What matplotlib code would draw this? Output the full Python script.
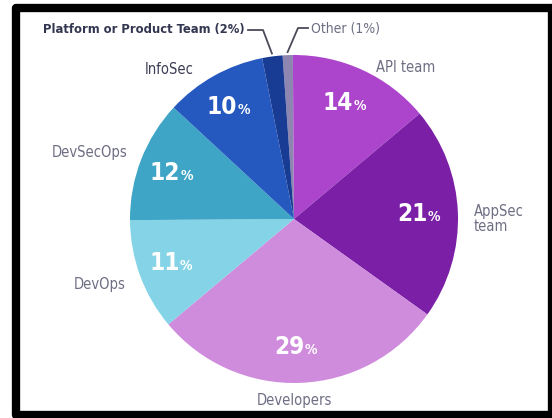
import numpy as np
import matplotlib
matplotlib.use('Agg')
import matplotlib.pyplot as plt
from matplotlib.patches import Rectangle

# team shares, clockwise from the top
teams = ['Other', 'API team', 'AppSec\nteam', 'Developers', 'DevOps',
         'DevSecOps', 'InfoSec', 'Platform or Product Team']
shares = [1, 14, 21, 29, 11, 12, 10, 2]
colors = ['#8c86b0', '#ad45cc', '#7a1fa6', '#cf8cdd', '#84d3e6',
          '#3ea5c6', '#2559c0', '#183c94']

# outside label spots (pixel space)
label_pos = {
    'API team': (406, 350),
    'AppSec\nteam': (474, 199),
    'Developers': (294, 18),
    'DevOps': (100, 134),
    'DevSecOps': (90, 265),
    'InfoSec': (169, 348),
}

fig = plt.figure(figsize=(5.52, 4.18), dpi=100)
ax = fig.add_axes([0, 0, 1, 1])

cx, cy, R = 294, 199, 164
wedges, _ = ax.pie(shares, colors=colors, startangle=94, counterclock=False,
                   center=(cx, cy), radius=R, frame=True,
                   wedgeprops=dict(linewidth=0))
ax.set_xlim(0, 552)
ax.set_ylim(0, 418)
ax.set_aspect('equal')
ax.axis('off')

font = dict(family='DejaVu Sans', fontstretch='condensed')

for w, name, val in zip(wedges, teams, shares):
    mid = np.deg2rad((w.theta1 + w.theta2) / 2)
    if val >= 5:
        d = 0.78 * R
        px, py = cx + d * np.cos(mid), cy + d * np.sin(mid)
        ax.annotate(str(val), (px, py), xytext=(4, 0), textcoords='offset points',
                    ha='right', va='center', color='white', fontsize=17.5,
                    fontweight='bold', **font)
        ax.annotate('%', (px, py), xytext=(4, -2), textcoords='offset points',
                    ha='left', va='center', color='white', fontsize=10,
                    fontweight='bold', **font)
    if name in label_pos:
        dark = name == 'InfoSec'
        ax.text(*label_pos[name], name,
                ha='left' if name.startswith('AppSec') else 'center',
                va='center', fontsize=10.5, color='#3c3e55' if dark else '#6e6e84',
                linespacing=1.0, **font)

# leader lines for the two thin slices
th_plat = np.deg2rad((wedges[7].theta1 + wedges[7].theta2) / 2)
th_oth = np.deg2rad((wedges[0].theta1 + wedges[0].theta2) / 2)
ex, ey = cx + (R + 3) * np.cos(th_plat), cy + (R + 3) * np.sin(th_plat)
ax.plot([248, 263, ex], [388, 388, ey], color='#4a4a5a', lw=1.3)
ax.text(245, 389, 'Platform or Product Team (2%)', ha='right', va='center',
        fontsize=9.3, fontweight='bold', color='#333650', **font)
ex, ey = cx + (R + 3) * np.cos(th_oth), cy + (R + 3) * np.sin(th_oth)
ax.plot([308, 298, ex], [390, 390, ey], color='#4a4a5a', lw=1.3)
ax.text(311, 390, 'Other (1%)', ha='left', va='center',
        fontsize=10, color='#6e6e84', **font)

# black frame
ax.add_patch(Rectangle((16, 3), 536, 407, fill=False, edgecolor='black',
                       linewidth=6, joinstyle='round', clip_on=False))

fig.savefig('out.png', dpi=100)
